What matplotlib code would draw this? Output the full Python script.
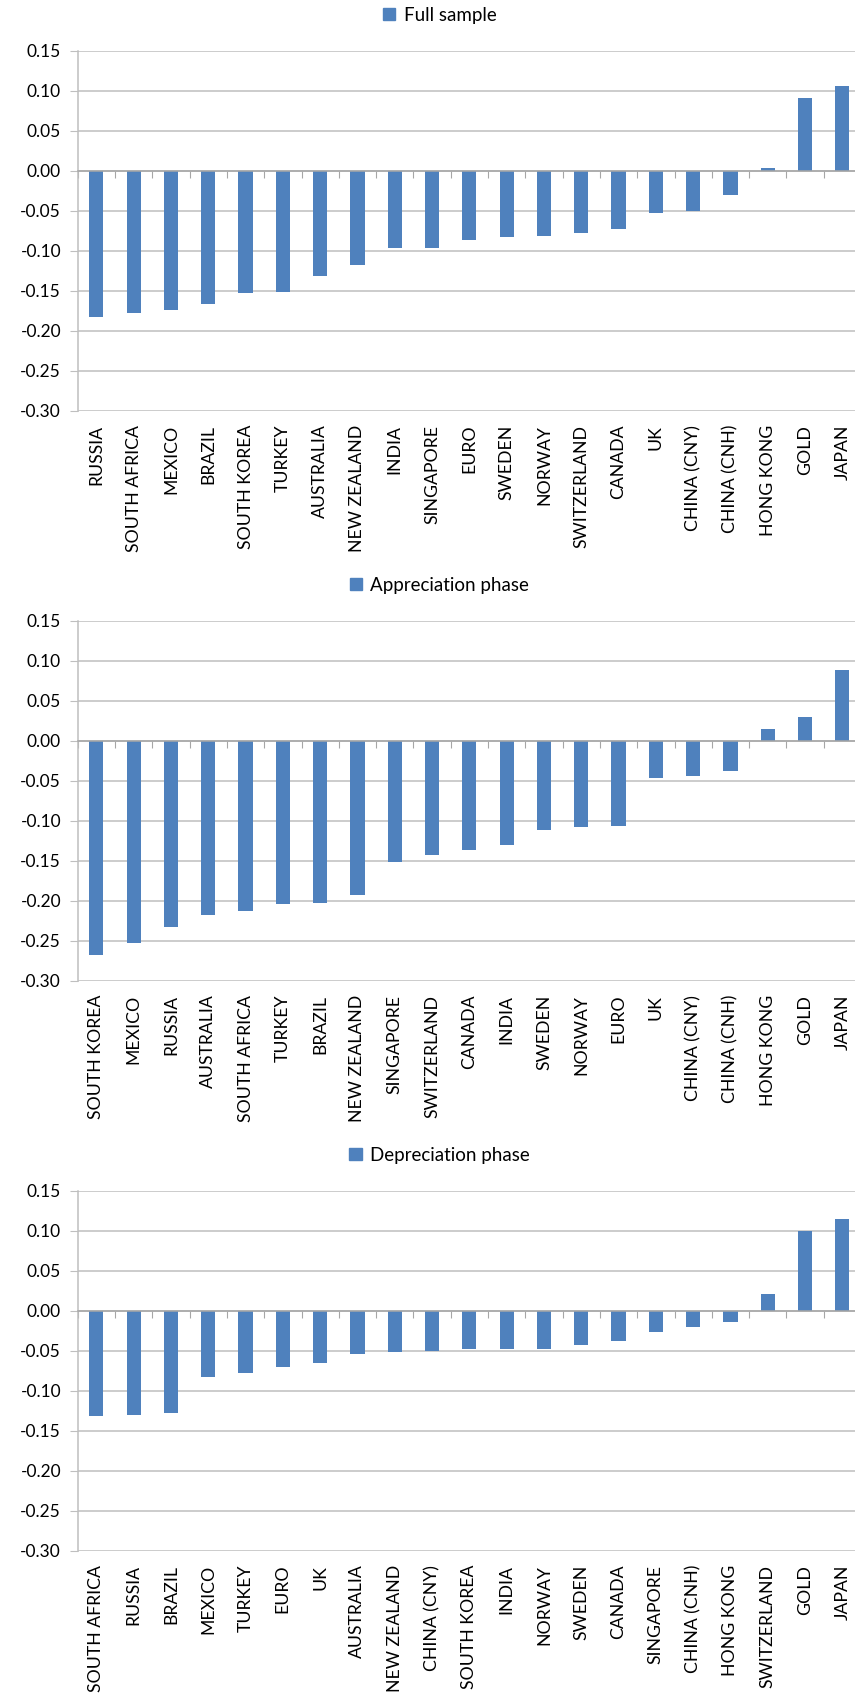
import numpy as np
import matplotlib.pyplot as plt
import matplotlib.transforms as mtransforms
from matplotlib.patches import Patch

plt.rcParams['font.family'] = ['Lato', 'DejaVu Sans']

full_names = ['RUSSIA', 'SOUTH AFRICA', 'MEXICO', 'BRAZIL', 'SOUTH KOREA', 'TURKEY',
              'AUSTRALIA', 'NEW ZEALAND', 'INDIA', 'SINGAPORE', 'EURO', 'SWEDEN',
              'NORWAY', 'SWITZERLAND', 'CANADA', 'UK', 'CHINA (CNY)', 'CHINA (CNH)',
              'HONG KONG', 'GOLD', 'JAPAN']
full_vals = [-0.183, -0.178, -0.174, -0.166, -0.153, -0.152, -0.132, -0.118, -0.097,
             -0.096, -0.087, -0.083, -0.082, -0.0775, -0.073, -0.053, -0.050, -0.030,
             0.003, 0.0915, 0.106]

appr_names = ['SOUTH KOREA', 'MEXICO', 'RUSSIA', 'AUSTRALIA', 'SOUTH AFRICA', 'TURKEY',
              'BRAZIL', 'NEW ZEALAND', 'SINGAPORE', 'SWITZERLAND', 'CANADA', 'INDIA',
              'SWEDEN', 'NORWAY', 'EURO', 'UK', 'CHINA (CNY)', 'CHINA (CNH)',
              'HONG KONG', 'GOLD', 'JAPAN']
appr_vals = [-0.268, -0.2525, -0.233, -0.218, -0.213, -0.204, -0.203, -0.193, -0.152,
             -0.143, -0.137, -0.130, -0.112, -0.108, -0.107, -0.046, -0.044, -0.038,
             0.015, 0.030, 0.088]

depr_names = ['SOUTH AFRICA', 'RUSSIA', 'BRAZIL', 'MEXICO', 'TURKEY', 'EURO', 'UK',
              'AUSTRALIA', 'NEW ZEALAND', 'CHINA (CNY)', 'SOUTH KOREA', 'INDIA',
              'NORWAY', 'SWEDEN', 'CANADA', 'SINGAPORE', 'CHINA (CNH)', 'HONG KONG',
              'SWITZERLAND', 'GOLD', 'JAPAN']
depr_vals = [-0.131, -0.130, -0.128, -0.083, -0.0775, -0.070, -0.065, -0.0545, -0.051,
             -0.050, -0.048, -0.048, -0.048, -0.043, -0.038, -0.027, -0.020, -0.014,
             0.021, 0.100, 0.115]

panels = [('Full sample', full_names, full_vals),
          ('Appreciation phase', appr_names, appr_vals),
          ('Depreciation phase', depr_names, depr_vals)]

yticks = np.round(np.arange(-0.30, 0.151, 0.05), 2) + 0.0
bar_color = '#4f81bd'
grid_color = '#bfbfbf'

W, H = 855, 1697
fig = plt.figure(figsize=(W / 100, H / 100), dpi=100)

# top of each plot area (the 0.15 line) in pixels from the top
tops = [50.7, 620.7, 1190.7]
plot_h = 360.0
left_px, width_px = 77.7, 783.3

for top, (title, names, vals) in zip(tops, panels):
    ax = fig.add_axes([left_px / W, 1 - (top + plot_h) / H, width_px / W, plot_h / H])
    n = len(names)
    x = np.arange(n)
    ax.bar(x, vals, width=0.38, color=bar_color, zorder=3)

    ax.set_xlim(-0.5, n - 0.5)
    ax.set_ylim(-0.30, 0.15)
    ax.set_yticks(yticks)
    ax.set_yticklabels([f'{abs(v):.2f}' if abs(v) < 1e-9 else f'{v:.2f}' for v in yticks],
                       fontsize=12.5)
    ax.grid(axis='y', color=grid_color, lw=1.1, zorder=0)
    ax.tick_params(axis='y', direction='out', length=6, color=grid_color, pad=6)

    for side in ('top', 'right'):
        ax.spines[side].set_visible(False)
    ax.spines['left'].set_color(grid_color)
    ax.spines['left'].set_linewidth(1.1)
    # category axis crosses at zero, ticks between categories
    ax.spines['bottom'].set_position(('data', 0))
    ax.spines['bottom'].set_color('#a6a6a6')
    ax.spines['bottom'].set_linewidth(1.1)
    ax.spines['bottom'].set_zorder(4)
    ax.set_xticks(np.arange(n + 1) - 0.5)
    ax.set_xticklabels([])
    ax.tick_params(axis='x', direction='out', length=5, color='#a6a6a6')

    trans = mtransforms.blended_transform_factory(ax.transData, ax.transAxes)
    for i, name in enumerate(names):
        ax.text(i, -14 / plot_h, name, transform=trans, rotation=90,
                ha='center', va='top', fontsize=12.7, color='black')

    ax.legend(handles=[Patch(color=bar_color, label=title)], loc='center',
              bbox_to_anchor=(0.462, 1 + 35.5 / plot_h), frameon=False,
              fontsize=13.5, handlelength=0.65, handleheight=0.65,
              handletextpad=0.45, borderpad=0)

fig.savefig('out.png', dpi=100)
